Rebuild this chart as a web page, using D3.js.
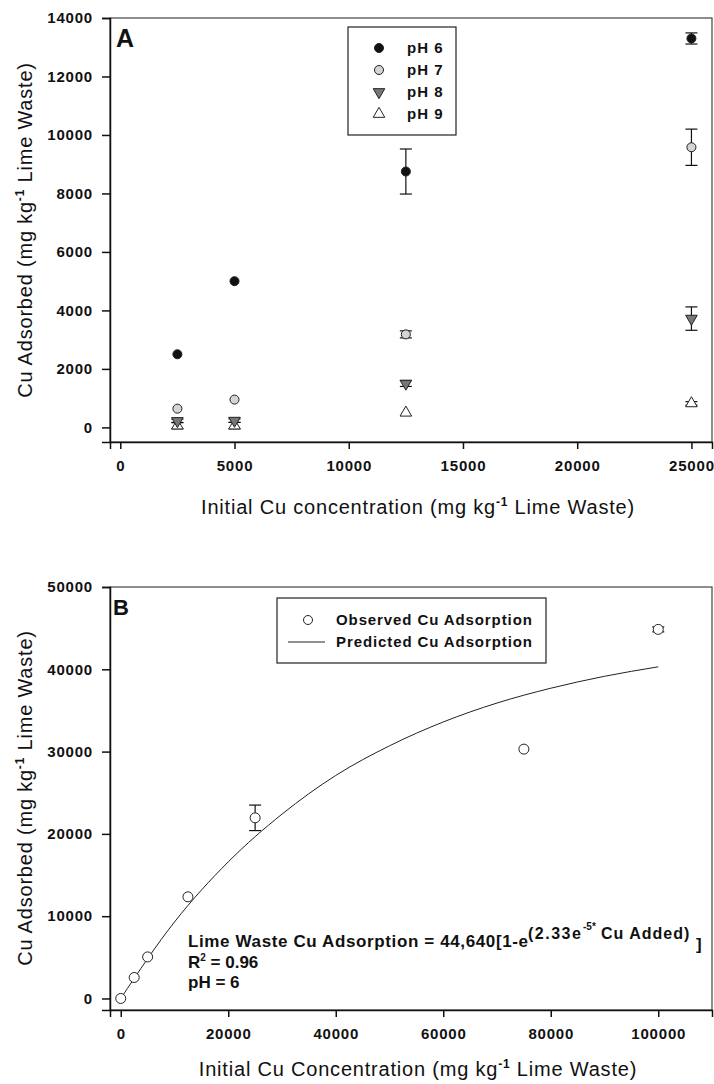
<html lang="en">
  <head>
      <meta charset="utf-8" />
      <title>Cu adsorption on lime waste</title>
      <script src="https://d3js.org/d3.v7.min.js"></script>
      <style>
        body { margin: 0; background: #ffffff; }
        text { font-family: "Liberation Sans", Arial, sans-serif; fill: #111; }
        .tick text { font-size: 15px; font-weight: bold; letter-spacing: 0.8px; }
        .axisTitle { font-size: 20px; letter-spacing: 0.8px; }
        .bold { font-weight: bold; }
      </style>
  </head>
  <body>
    <div id="svgContainer"></div>
  </body>
  <script>
    var width = 714,  //Canevas dimension
        height = 1084;

    // Panel A - Cu adsorbed at four pH values
    var concA = [2500, 5000, 12500, 25000];
    var ph6 = [2500, 5000, 8750, 13300];
    var ph6Err = [0, 0, 770, 190];
    var ph7 = [640, 950, 3180, 9580];
    var ph7Err = [0, 0, 120, 620];
    var ph8 = [220, 230, 1500, 3720];
    var ph8Err = [60, 60, 100, 400];
    var ph9 = [60, 60, 500, 820];
    var ph9Err = [110, 110, 0, 60];
    var seriesNamesA = ["pH 6", "pH 7", "pH 8", "pH 9"];
    var xTicksA = [0, 5000, 10000, 15000, 20000, 25000];
    var yTicksA = [0, 2000, 4000, 6000, 8000, 10000, 12000, 14000];

    // Panel B - observed and predicted adsorption at pH 6
    var concB = [0, 2500, 5000, 12500, 25000, 75000, 100000];
    var observedB = [0, 2550, 5050, 12350, 21950, 30300, 44850];
    var observedErr = [0, 0, 0, 0, 1550, 0, 300];
    var predictedX = [0, 10000, 20000, 30000, 40000, 50000, 60000, 70000, 80000, 90000, 100000];
    var predictedY = [0, 9300, 16600, 22400, 27100, 30700, 33600, 35900, 37700, 39150, 40300];
    var legendB = ["Observed Cu Adsorption", "Predicted Cu Adsorption"];
    var xTicksB = [0, 20000, 40000, 60000, 80000, 100000];
    var yTicksB = [0, 10000, 20000, 30000, 40000, 50000];

    var svg = d3.select("#svgContainer")
                .append("svg")
                .attr("width", width)
                .attr("height", height);

    // Scales
    var xA = d3.scaleLinear().domain([-450, 25900]).range([110, 712]);
    var yA = d3.scaleLinear().domain([-500, 14000]).range([442, 18]);
    var xB = d3.scaleLinear().domain([-2000, 110000]).range([110, 712]);
    var yB = d3.scaleLinear().domain([-1400, 50000]).range([1010, 587]);

    // Frames + axes
    function drawAxes(x, y, xt, yt) {
        var x0 = x.range()[0], x1 = x.range()[1],
            y0 = y.range()[0], y1 = y.range()[1];
        svg.append("rect")
           .attr("x", x0).attr("y", y1)
           .attr("width", x1 - x0).attr("height", y0 - y1)
           .attr("fill", "none").attr("stroke", "#444").attr("stroke-width", 1.2);
        svg.append("g")
           .attr("transform", "translate(0," + y0 + ")")
           .call(d3.axisBottom(x).tickValues(xt).tickSize(7).tickPadding(11).tickFormat(d3.format("d")))
           .call(function(g) { g.selectAll("path, line").attr("stroke", "#111").attr("stroke-width", 1.5); });
        svg.append("g")
           .attr("transform", "translate(" + x0 + ",0)")
           .call(d3.axisLeft(y).tickValues(yt).tickSize(8).tickPadding(9).tickFormat(d3.format("d")))
           .call(function(g) { g.selectAll("path, line").attr("stroke", "#111").attr("stroke-width", 1.5); });
    }
    drawAxes(xA, yA, xTicksA, yTicksA);
    drawAxes(xB, yB, xTicksB, yTicksB);

    // Axis titles with the kg-1 superscript
    function axisTitle(txt1, txt2, tx, ty, rot) {
        var t = svg.append("text")
                   .attr("class", "axisTitle")
                   .attr("text-anchor", "middle")
                   .attr("transform", "translate(" + tx + "," + ty + ") rotate(" + rot + ")");
        t.append("tspan").text(txt1);
        t.append("tspan").attr("dy", -8).attr("font-size", 12).attr("font-weight", "bold").text("-1");
        t.append("tspan").attr("dy", 8).text(txt2);
    }
    axisTitle("Initial Cu concentration (mg kg", " Lime Waste)", 418, 514, 0);
    axisTitle("Cu Adsorbed (mg kg", " Lime Waste)", 32, 230, -90);
    axisTitle("Initial Cu Concentration (mg kg", " Lime Waste)", 418, 1076, 0);
    axisTitle("Cu Adsorbed (mg kg", " Lime Waste)", 32, 798, -90);

    // Panel letters
    svg.append("text").attr("class", "bold").attr("x", 116).attr("y", 47).attr("font-size", 25).text("A");
    svg.append("text").attr("class", "bold").attr("x", 113).attr("y", 615).attr("font-size", 22).text("B");

    // Marker styles for panel A
    var styles = [
        {"type": d3.symbolCircle, "size": 64, "fill": "#111111", "rot": 0},
        {"type": d3.symbolCircle, "size": 64, "fill": "#d4d4d4", "rot": 0},
        {"type": d3.symbolTriangle, "size": 58, "fill": "#777777", "rot": 180},
        {"type": d3.symbolTriangle, "size": 58, "fill": "#ffffff", "rot": 0}
    ];
    var seriesA = [ph6, ph7, ph8, ph9];
    var errA = [ph6Err, ph7Err, ph8Err, ph9Err];

    function errorBar(x, y, cx, v, e) {
        if (!e) return;
        var g = svg.append("g").attr("stroke", "#111").attr("stroke-width", 1.2);
        g.append("line").attr("x1", x(cx)).attr("x2", x(cx)).attr("y1", y(v - e)).attr("y2", y(v + e));
        g.append("line").attr("x1", x(cx) - 6).attr("x2", x(cx) + 6).attr("y1", y(v - e)).attr("y2", y(v - e));
        g.append("line").attr("x1", x(cx) - 6).attr("x2", x(cx) + 6).attr("y1", y(v + e)).attr("y2", y(v + e));
    }

    function marker(px, py, st) {
        svg.append("path")
           .attr("d", d3.symbol().type(st.type).size(st.size))
           .attr("transform", "translate(" + px + "," + py + ") rotate(" + st.rot + ")")
           .attr("fill", st.fill)
           .attr("stroke", "#222")
           .attr("stroke-width", 1);
    }

    // pH 9 first so the darker series sit on top
    [3, 2, 1, 0].forEach(function(s) {
        concA.forEach(function(c, i) {
            errorBar(xA, yA, c, seriesA[s][i], errA[s][i]);
        });
        concA.forEach(function(c, i) {
            marker(xA(c), yA(seriesA[s][i]), styles[s]);
        });
    });

    // Legend A
    svg.append("rect").attr("x", 348).attr("y", 27).attr("width", 108).attr("height", 108)
       .attr("fill", "#fff").attr("stroke", "#222").attr("stroke-width", 1.2);
    seriesNamesA.forEach(function(n, i) {
        marker(379, 48 + i * 22, styles[i]);
        svg.append("text").attr("class", "bold").attr("font-size", 15).attr("letter-spacing", 1)
           .attr("x", 407).attr("y", 53 + i * 22).text(n);
    });

    // Panel B: predicted curve
    var line = d3.line()
                 .x(function(d, i) { return xB(predictedX[i]); })
                 .y(function(d) { return yB(d); })
                 .curve(d3.curveMonotoneX);
    svg.append("path")
       .attr("d", line(predictedY))
       .attr("fill", "none")
       .attr("stroke", "#222")
       .attr("stroke-width", 1);

    // Observed points
    concB.forEach(function(c, i) { errorBar(xB, yB, c, observedB[i], observedErr[i]); });
    concB.forEach(function(c, i) {
        svg.append("circle").attr("cx", xB(c)).attr("cy", yB(observedB[i])).attr("r", 5)
           .attr("fill", "#fff").attr("stroke", "#222").attr("stroke-width", 1);
    });

    // Legend B
    svg.append("rect").attr("x", 277).attr("y", 598).attr("width", 269).attr("height", 65)
       .attr("fill", "#fff").attr("stroke", "#222").attr("stroke-width", 1.2);
    svg.append("circle").attr("cx", 308).attr("cy", 620).attr("r", 4.5)
       .attr("fill", "#fff").attr("stroke", "#222");
    svg.append("line").attr("x1", 288).attr("x2", 325).attr("y1", 642).attr("y2", 642)
       .attr("stroke", "#222");
    legendB.forEach(function(n, i) {
        svg.append("text").attr("class", "bold").attr("font-size", 15).attr("letter-spacing", 0.9)
           .attr("x", 336).attr("y", 625 + i * 22).text(n);
    });

    // Equation annotation
    var eq = svg.append("text").attr("class", "bold").attr("font-size", 17);
    eq.append("tspan").attr("x", 188).attr("y", 947).attr("textLength", 340).attr("lengthAdjust", "spacing")
      .text("Lime Waste Cu Adsorption = 44,640[1-e");
    eq.append("tspan").attr("x", 528).attr("y", 939).attr("font-size", 16)
      .attr("letter-spacing", 1.5).text("(2.33e");
    eq.append("tspan").attr("x", 583).attr("y", 930).attr("font-size", 10).text("-5*");
    eq.append("tspan").attr("x", 601).attr("y", 939).attr("font-size", 16)
      .attr("letter-spacing", 1).text("Cu Added)");
    eq.append("tspan").attr("x", 696).attr("y", 950).text("]");

    var r2 = svg.append("text").attr("class", "bold").attr("font-size", 17)
                .attr("x", 188).attr("y", 968);
    r2.append("tspan").text("R");
    r2.append("tspan").attr("dy", -7).attr("font-size", 10).text("2");
    r2.append("tspan").attr("dy", 7).text(" = 0.96");
    svg.append("text").attr("class", "bold").attr("font-size", 17)
       .attr("x", 188).attr("y", 988).text("pH = 6");
  </script>
</html>
